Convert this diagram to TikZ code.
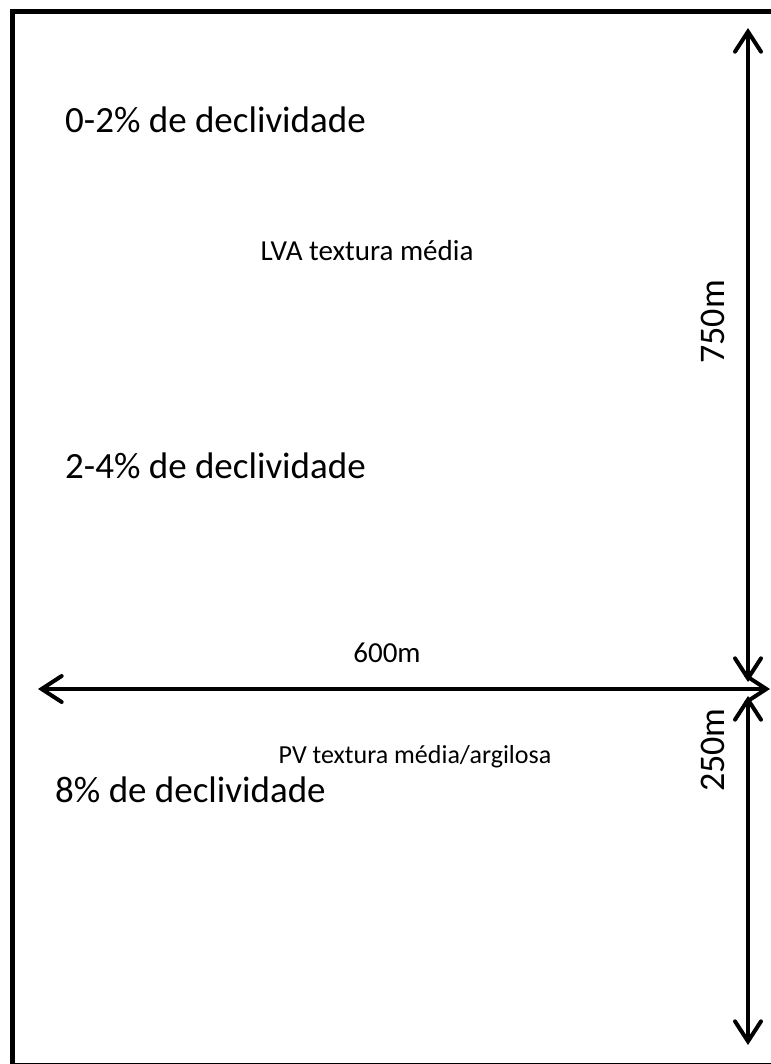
\documentclass[tikz,border=0pt]{standalone}
\usepackage{fontspec}
\setmainfont{Carlito}
\usetikzlibrary{arrows.meta}
\begin{document}
\begin{tikzpicture}[x=1bp,y=-1bp,
  frame/.style={line width=5bp},
  dim/.style={line width=4bp,{Straight Barb[length=20bp,width=26bp,line width=4bp,line cap=round]}-{Straight Barb[length=20bp,width=26bp,line width=4bp,line cap=round]}},
  bigtxt/.style={font=\fontsize{37bp}{44bp}\selectfont,inner sep=0pt,anchor=base west},
  smalltxt/.style={font=\fontsize{29bp}{35bp}\selectfont,inner sep=0pt,anchor=base},
  pvtxt/.style={font=\fontsize{26bp}{31bp}\selectfont,inner sep=0pt,anchor=base},
  vtxt/.style={font=\fontsize{36bp}{43bp}\selectfont,inner sep=0pt,rotate=90}]
\useasboundingbox (0,0) rectangle (771,1064);
\draw[frame] (12.5,11) rectangle (775,1065.5);
% dimension arrows
\coordinate (t750) at (748,28);
\coordinate (b750) at (748,682);
\coordinate (t250) at (748,696);
\coordinate (b250) at (748,1045);
\coordinate (l600) at (38,689);
\coordinate (r600) at (770,689);
\draw[dim] (t750) -- (b750);
\draw[dim] (t250) -- (b250);
\draw[dim] (l600) -- (r600);
% labels
\node[bigtxt] (s1) at (65,132) {0-2\% de declividade};
\node[smalltxt] (lva) at (367,260) {LVA textura média};
\node[vtxt] (d750) at (713,322) {750m};
\node[bigtxt] (s2) at (65,478) {2-4\% de declividade};
\node[smalltxt] (d600) at (387,662) {600m};
\node[pvtxt] (pv) at (415,763) {PV textura média/argilosa};
\node[bigtxt] (s3) at (55,802) {8\% de declividade};
\node[vtxt] (d250) at (713,750) {250m};
\end{tikzpicture}
\end{document}
